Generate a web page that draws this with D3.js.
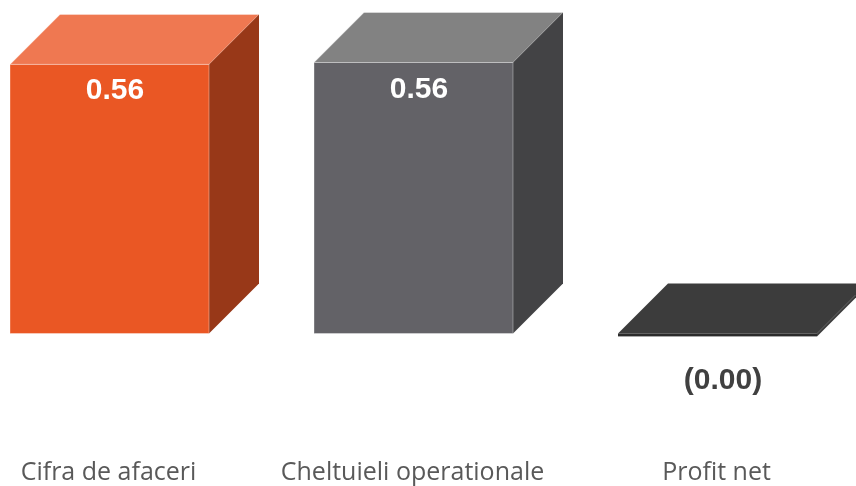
<!DOCTYPE html>
<html>
<head>
<meta charset="utf-8">
<script src="https://cdn.jsdelivr.net/npm/d3@7"></script>
<style>
  html, body { margin: 0; padding: 0; background: #fff; overflow: hidden; }
  svg { display: block; filter: blur(0.5px); }
  .cat text { font-family: "Open Sans", sans-serif; font-size: 25px; fill: #595959; }
  .val { font-family: "Liberation Sans", sans-serif; font-weight: bold; font-size: 30px; text-anchor: middle; }
</style>
</head>
<body>
<svg></svg>
<script>
var categories = ["Cifra de afaceri", "Cheltuieli operationale", "Profit net"];
var values = [0.556, 0.56, -0.006];
var valueLabels = ["0.56", "0.56", "(0.00)"];

var width = 856;
var height = 486;
var depth = 50;
var frontColors = ["#ea5724", "#636267", "#2b2b2b"];
var topColors = ["#ef7851", "#828282", "#3c3c3c"];
var sideColors = ["#983818", "#434345", "#3c3c3c"];

var svg = d3.select("svg").attr("width", width).attr("height", height);

var x = d3.scaleBand().domain(categories).range([10, 817]).paddingInner(0.3454).paddingOuter(0);
var y = d3.scaleLinear().domain([0, 0.56]).range([333.5, 62.5]);

var bars = svg.selectAll("g.bar")
  .data(values)
  .enter().append("g")
  .attr("class", "bar");

// top face
bars.append("path")
  .attr("fill", function(d, i) { return topColors[i]; })
  .attr("stroke", "#fff")
  .attr("stroke-opacity", function(d) { return d < 0 ? 0 : 0.35; })
  .attr("d", function(d, i) {
    var x0 = x(categories[i]), x1 = x0 + x.bandwidth(), t = y(Math.max(d, 0));
    return "M" + x0 + "," + t + "L" + (x0 + depth) + "," + (t - depth) + "L" + (x1 + depth) + "," + (t - depth) + "L" + x1 + "," + t + "Z";
  });

// side face
bars.append("path")
  .attr("fill", function(d, i) { return sideColors[i]; })
  .attr("d", function(d, i) {
    var x1 = x(categories[i]) + x.bandwidth(), t = y(Math.max(d, 0)), b = y(Math.min(d, 0));
    return "M" + x1 + "," + t + "L" + (x1 + depth) + "," + (t - depth) + "L" + (x1 + depth) + "," + (b - depth) + "L" + x1 + "," + b + "Z";
  });

// front face
bars.append("rect")
  .attr("x", function(d, i) { return x(categories[i]); })
  .attr("y", function(d) { return y(Math.max(d, 0)); })
  .attr("width", x.bandwidth())
  .attr("height", function(d) { return Math.abs(y(d) - y(0)); })
  .attr("fill", function(d, i) { return frontColors[i]; })
  .attr("stroke", "#fff")
  .attr("stroke-opacity", function(d) { return d < 0 ? 0 : 0.35; });

// value labels: inside the bar, or under it when negative
bars.append("text")
  .attr("class", "val")
  .attr("x", function(d, i) { return x(categories[i]) + x.bandwidth() / 2 + 5.5; })
  .attr("y", function(d) { return d < 0 ? y(d) + 53 : y(d) + 35; })
  .attr("fill", function(d) { return d < 0 ? "#404040" : "#fff"; })
  .text(function(d, i) { return valueLabels[i]; });

var xAxis = d3.axisBottom(x).tickSize(0).tickPadding(0);
svg.append("g")
  .attr("class", "cat")
  .attr("transform", "translate(-1,462.5)")
  .call(xAxis)
  .call(function(g) { g.select(".domain").remove(); });
</script>
</body>
</html>
